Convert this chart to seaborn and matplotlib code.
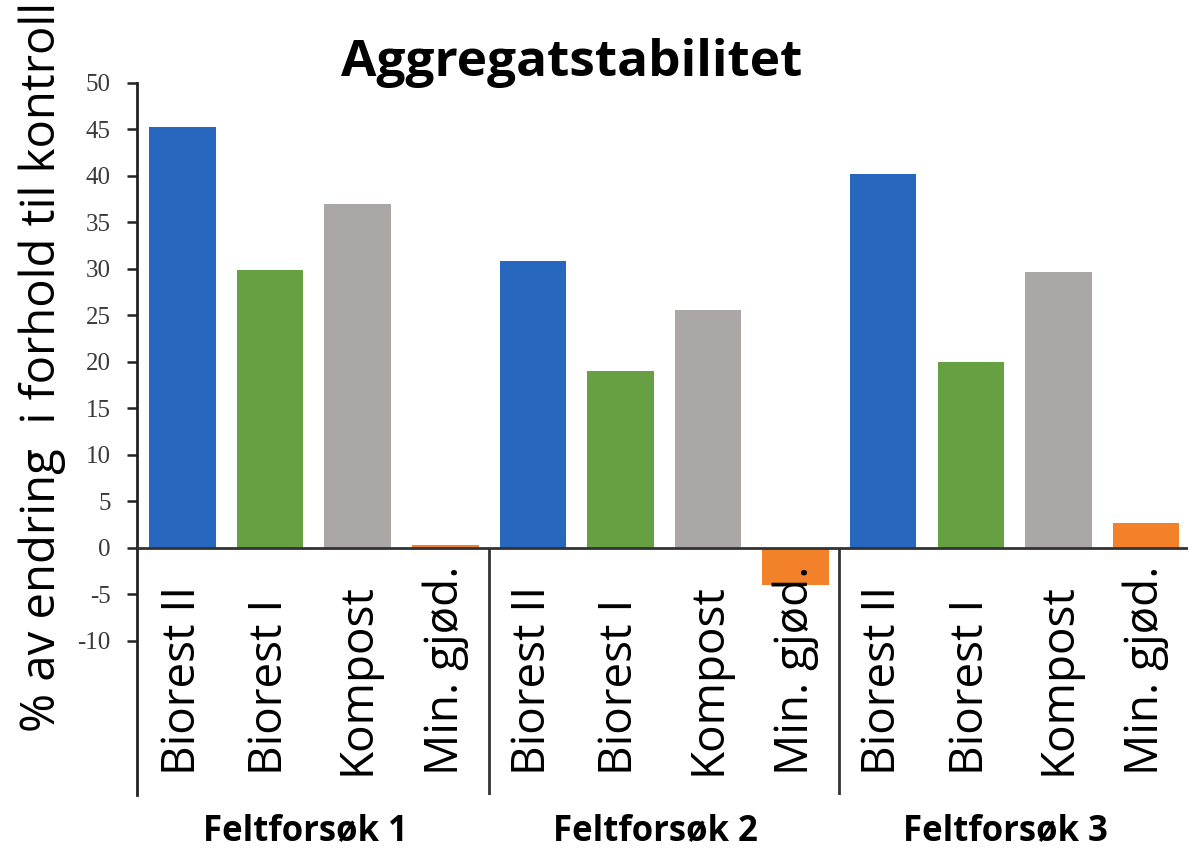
import matplotlib
matplotlib.use("Agg")
import matplotlib.pyplot as plt
import pandas as pd
import seaborn as sns

# values (% change relative to control)
groups = ["Feltforsøk 1", "Feltforsøk 2", "Feltforsøk 3"]
treatments = ["Biorest II", "Biorest I", "Kompost", "Min. gjød."]
values_f1 = [45.2, 29.9, 37.0, 0.3]
values_f2 = [30.8, 19.0, 25.6, -4.0]
values_f3 = [40.2, 20.0, 29.6, 2.6]
yticks = list(range(-10, 55, 5))

colors = {
    "Biorest II": "#2768BE",
    "Biorest I": "#67A043",
    "Kompost": "#ABA7A7",
    "Min. gjød.": "#F28129",
}

rows = []
for g, vals in zip(groups, [values_f1, values_f2, values_f3]):
    for t, v in zip(treatments, vals):
        rows.append({"bar": f"{g} | {t}", "group": g, "treatment": t, "value": v})
df = pd.DataFrame(rows)

sns.set_style("white")
plt.rcParams["font.family"] = ["Open Sans", "DejaVu Sans"]

ymin, ymax = -26.6, 50

fig = plt.figure(figsize=(11.88, 8.52), dpi=100)
ax = fig.add_axes([0.1153, 0.0669, 0.8847, 0.836])
sns.barplot(data=df, x="bar", y="value", hue="treatment", palette=colors,
            dodge=False, width=0.76, saturation=1, legend=False,
            linewidth=0, ax=ax)

ax.set_ylim(ymin, ymax)
ax.set_xlim(-0.52, len(df) - 0.52)
ax.set_yticks(yticks)
ax.set_yticklabels([str(t) for t in yticks], fontfamily="Liberation Serif",
                   fontsize=18, color="#3a3a3a")
ax.tick_params(axis="y", length=7, width=1.8, pad=12, direction="out",
               color="#222222", left=True)
ax.set_xticks([])
ax.set_xlabel("")

for s in ["top", "right", "bottom"]:
    ax.spines[s].set_visible(False)
ax.spines["left"].set_linewidth(2)
ax.spines["left"].set_color("#222222")

# zero line and group separators
ax.axhline(0, color="#333333", lw=2, zorder=3)
n = len(treatments)
for k in range(1, len(groups)):
    ax.vlines(k * n - 0.5, ymin, 0, color="#333333", lw=2)

# rotated category labels under each bar
for i, row in df.iterrows():
    ax.text(i, -24.4, row["treatment"], rotation=90, ha="center", va="bottom",
            fontsize=33, color="black", zorder=5)

# group labels
for k, g in enumerate(groups):
    ax.text(k * n + (n - 1) / 2 - 0.1, -31.4, g, ha="center", va="baseline",
            fontsize=25, fontweight="bold", color="black")

ax.set_ylabel("% av endring  i forhold til kontroll", fontsize=34, color="black")
ax.yaxis.set_label_coords(-0.0676, 0.601)

fig.text(0.4815, 0.9108, "Aggregatstabilitet", ha="center", va="baseline",
         fontsize=37, fontweight="bold", color="black")

fig.savefig("out.png", dpi=100)
